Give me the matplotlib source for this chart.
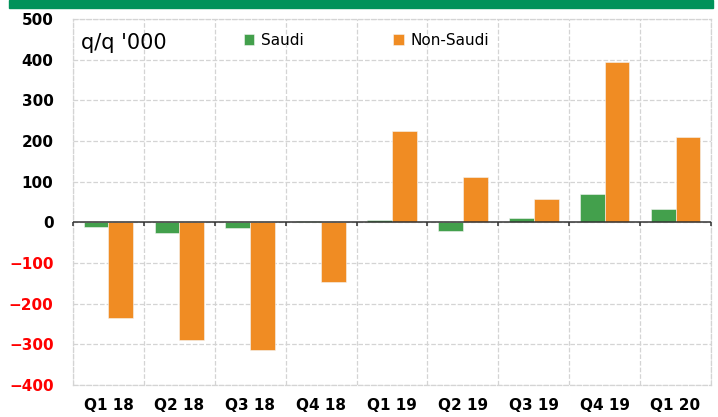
import matplotlib
matplotlib.use("Agg")
import matplotlib.pyplot as plt
import numpy as np

# ---- data (q/q change, thousands) ----
QUARTERS = ["Q1 18", "Q2 18", "Q3 18", "Q4 18", "Q1 19",
            "Q2 19", "Q3 19", "Q4 19", "Q1 20"]
SAUDI = [-11, -25, -15, 4, 5, -22, 11, 69, 32]
NON_SAUDI = [-235, -289, -313, -146, 225, 112, 58, 395, 211]

GREEN, ORANGE = "#43a04c", "#f08c23"
GRID = "#d4d4d4"

fig = plt.figure(figsize=(7.18, 4.17), dpi=100)
# green banner along the top
fig.patches.append(plt.Rectangle((9 / 718, 1 - 8 / 417), 704 / 718, 8 / 417,
                                 transform=fig.transFigure, color="#00925a"))
ax = fig.add_axes([73 / 718, 32 / 417, 638 / 718, 366 / 417])

x = np.arange(len(QUARTERS))
w = 0.35
ax.bar(x - w / 2, SAUDI, w, color=GREEN, edgecolor="#f4f4f4", lw=0.4,
       label="Saudi", zorder=3)
ax.bar(x + w / 2, NON_SAUDI, w, color=ORANGE, edgecolor="#f4f4f4", lw=0.4,
       label="Non-Saudi", zorder=3)

ax.set_xlim(-0.5, len(QUARTERS) - 0.5)
ax.set_ylim(-400, 500)
ax.set_yticks(range(-400, 501, 100))
ax.set_xticks(x)
ax.set_xticklabels(QUARTERS, fontsize=11, fontweight="bold")
ax.set_xticks(np.arange(-0.5, len(QUARTERS)), minor=True)
ax.tick_params(axis="x", which="both", length=0, pad=9)
ax.tick_params(axis="y", length=0, pad=14, labelsize=11)
for lab in ax.get_yticklabels():
    lab.set_fontweight("bold")
    lab.set_color("red" if lab.get_text().startswith(("-", "\u2212")) else "black")

ax.grid(True, axis="y", color=GRID, ls="--", lw=0.9, zorder=0)
ax.grid(True, axis="x", which="minor", color=GRID, ls="--", lw=0.9, zorder=0)
for s in ax.spines.values():
    s.set_color(GRID)
    s.set_linestyle("--")
    s.set_linewidth(0.9)

# zero line with small tick marks at the category boundaries
ax.axhline(0, color="#333333", lw=1.1, zorder=4)
ax.vlines(np.arange(-0.5, len(QUARTERS)), -9, 0, color="#333333", lw=1.1,
          zorder=4, clip_on=False)

ax.text(0.012, 0.935, "q/q '000", transform=ax.transAxes, fontsize=15,
        va="center", ha="left")
ax.legend(loc="upper left", bbox_to_anchor=(0.246, 1.0), ncol=2, frameon=False,
          fontsize=11, handlelength=0.7, handleheight=0.7, handletextpad=0.4,
          columnspacing=5.9)

fig.savefig("out.png", dpi=100)
